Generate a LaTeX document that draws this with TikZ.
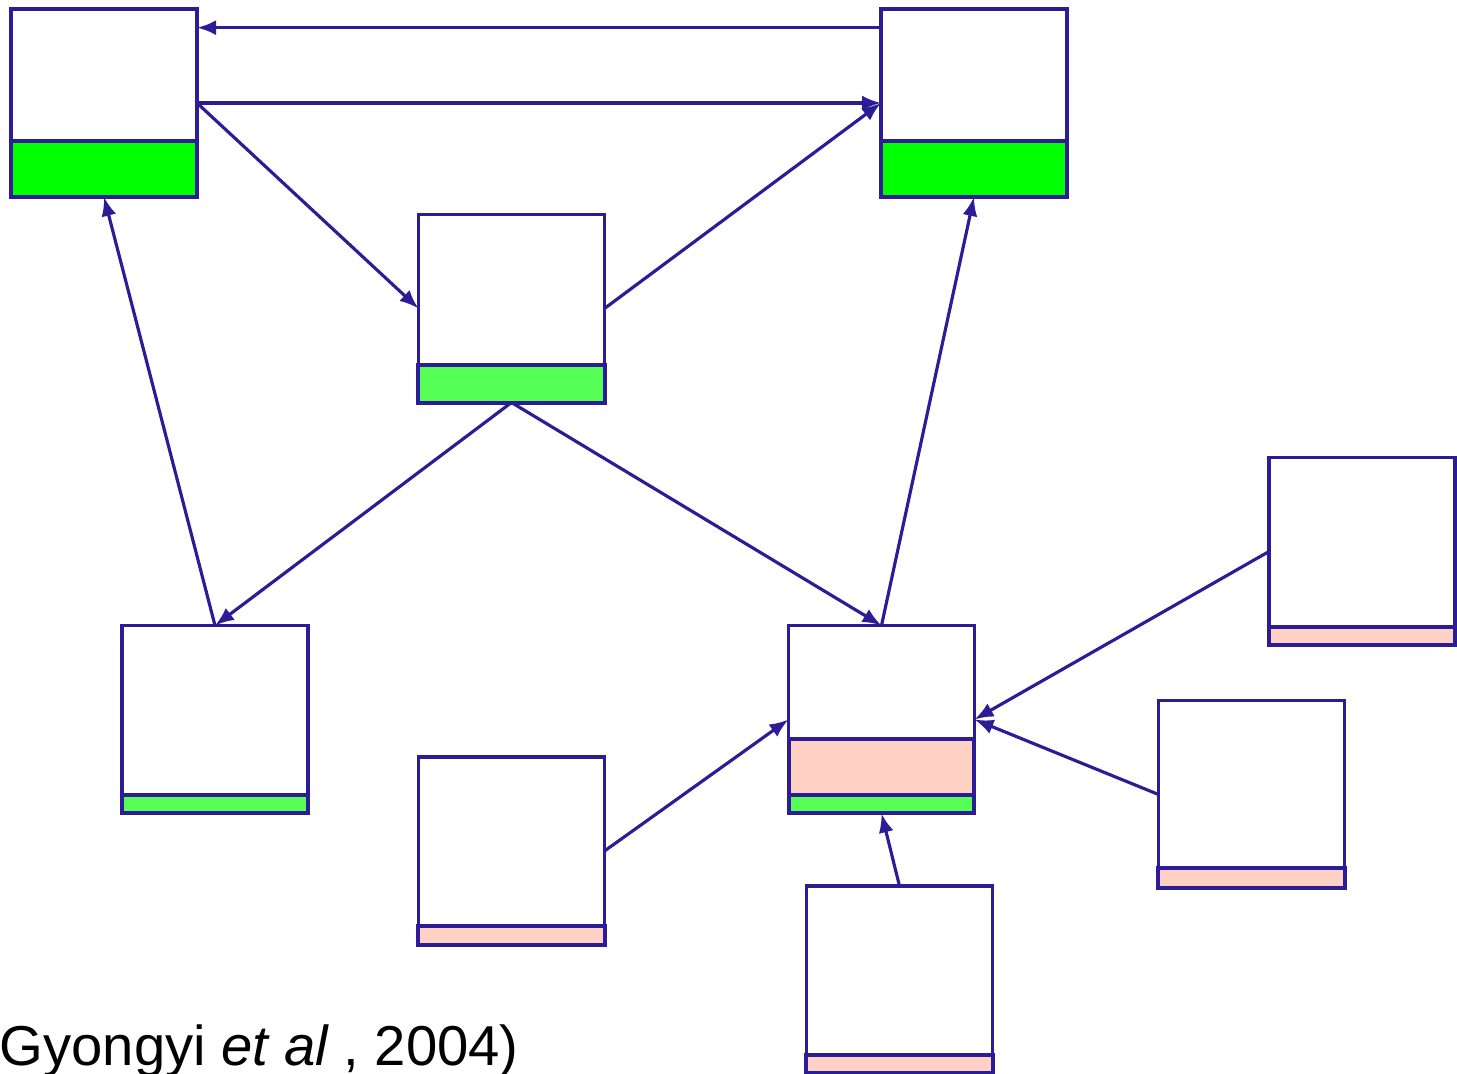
\documentclass[tikz,border=0pt]{standalone}
\usepackage{fontspec}
\setmainfont{Liberation Sans}
\usetikzlibrary{arrows.meta}
\definecolor{edgeblue}{RGB}{44,28,150}
\definecolor{goodgreen}{RGB}{0,255,0}
\definecolor{litegreen}{RGB}{85,255,85}
\definecolor{spampink}{RGB}{255,208,196}
\tikzset{
  page/.style={draw=edgeblue, line width=0.9pt, minimum width=1.86cm,
    minimum height=1.88cm, inner sep=0pt, outer sep=0pt},
  bar/.style={draw=edgeblue, line width=0.9pt},
  link/.style={draw=edgeblue, line width=0.9pt, -{Latex[length=1.9mm,width=1.5mm]}}
}
\begin{document}
\begin{tikzpicture}[x=0.1mm, y=-0.1mm]
      \useasboundingbox (0,0) rectangle (1457,1074);
      % score bars
      \draw[bar, fill=goodgreen] (11,141) rectangle (197,197);
      \draw[bar, fill=goodgreen] (881,141) rectangle (1067,197);
      \draw[bar, fill=litegreen] (418,365) rectangle (605,403);
      \draw[bar, fill=litegreen] (122,795) rectangle (308,813);
      \draw[bar, fill=spampink] (789,739) rectangle (974,795);
      \draw[bar, fill=litegreen] (789,795) rectangle (974,813);
      \draw[bar, fill=spampink] (1269,627) rectangle (1455,645);
      \draw[bar, fill=spampink] (1158,868) rectangle (1345,888);
      \draw[bar, fill=spampink] (418,926) rectangle (605,945);
      \draw[bar, fill=spampink] (806,1055) rectangle (993,1073);
      % pages
      \path
        (104,103) node[page] (A){}
        (974,103) node[page] (B){}
        (511.5,308.5) node[page] (C){}
        (215,719.5) node[page] (D){}
        (881.5,719.5) node[page] (E){}
        (1362,551.5) node[page] (F){}
        (1251.5,794.5) node[page] (G){}
        (511.5,851) node[page] (H){}
        (899.5,980) node[page] (I){};
      \begin{scope}[link]
        \draw (B.141.5) to (A.east |- B.141.5);
        \draw (A.east) to (B.west);
        \draw (A.east) to (C.west);
        \draw (C.east) to (B.west);
        \draw (C.south) to (D.north);
        \draw (C.south) to (E.north);
        \draw (D.north) to (A.south);
        \draw (E.north) to (B.south);
        \draw (H.east) to (E.west);
        \draw (F.west) to (E.east);
        \draw (G.west) to (E.east);
        \draw (I.north) to (E.south);
      \end{scope}
      \node[anchor=base west, font=\fontsize{16}{19}\selectfont, inner sep=0pt]
        (cite) at (-1,1065) {Gyongyi {\itshape et al} , 2004)};
    \end{tikzpicture}
\end{document}
